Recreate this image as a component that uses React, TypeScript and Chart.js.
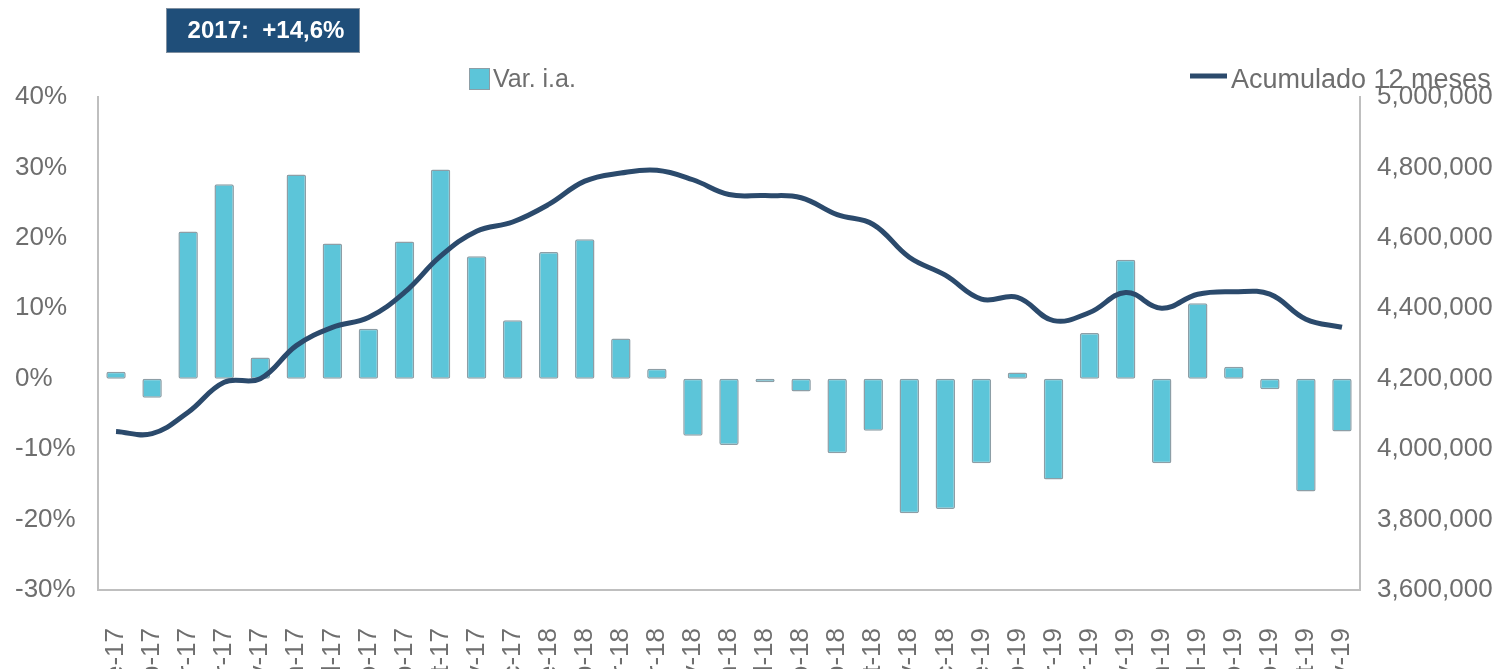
import React, { useEffect, useRef } from "react";
import { Chart, registerables } from "chart.js";

Chart.register(...registerables);

const categories = [
  "ene-17", "feb-17", "mar-17", "abr-17", "may-17", "jun-17", "jul-17", "ago-17", "sep-17", "oct-17", "nov-17", "dic-17",
  "ene-18", "feb-18", "mar-18", "abr-18", "may-18", "jun-18", "jul-18", "ago-18", "sep-18", "oct-18", "nov-18", "dic-18",
  "ene-19", "feb-19", "mar-19", "abr-19", "may-19", "jun-19", "jul-19", "ago-19", "sep-19", "oct-19", "nov-19",
];

// Var. i.a. (%)
const varIA = [
  1.0, -2.7, 20.9, 27.6, 3.0, 29.0, 19.2, 7.1, 19.5, 29.7, 17.4, 8.3,
  18.0, 19.8, 5.7, 1.4, -8.1, -9.4, -0.5, -1.8, -10.6, -7.4, -19.1, -18.5,
  -12.0, 0.9, -14.3, 6.5, 16.9, -12.0, 10.7, 1.7, -1.5, -16.0, -7.5,
];

// Acumulado 12 meses
const acumulado = [
  4050000, 4044000, 4105000, 4190000, 4200000, 4294000, 4346000, 4374000, 4445000, 4548000, 4619000, 4645000,
  4695000, 4761000, 4784000, 4792000, 4765000, 4723000, 4720000, 4714000, 4666000, 4638000, 4545000, 4494000,
  4426000, 4431000, 4365000, 4388000, 4445000, 4400000, 4440000, 4447000, 4440000, 4369000, 4346000,
];

const leftTicks = { min: -30, max: 40, step: 10 };
const rightTicks = { min: 3600000, max: 5000000, step: 200000 };

const titleText = "2017:  +14,6%";
const legendBar = "Var. i.a.";
const legendLine = "Acumulado 12 meses";

const BAR_COLOR = "#5cc5d9";
const BAR_BORDER = "#8d9ea6";
const LINE_COLOR = "#2b4a6c";
const TEXT_COLOR = "#6e6e6e";
const AXIS_COLOR = "#bfbfbf";
const FONT = "'Liberation Sans', Arial, sans-serif";

const overlayPlugin = {
  id: "overlay",
  afterDraw(chart: any) {
    const ctx = chart.ctx;
    ctx.save();
    // title box
    ctx.fillStyle = "#1f4e79";
    ctx.fillRect(166, 8, 194, 45);
    ctx.strokeStyle = "#7f8fa0";
    ctx.lineWidth = 1;
    ctx.strokeRect(166.5, 8.5, 193, 44);
    ctx.fillStyle = "#ffffff";
    ctx.font = `bold 24px ${FONT}`;
    ctx.textAlign = "center";
    ctx.textBaseline = "middle";
    ctx.fillText(titleText, 266, 31);

    // legend bar
    ctx.fillStyle = BAR_COLOR;
    ctx.fillRect(469, 68, 21, 22);
    ctx.strokeStyle = BAR_BORDER;
    ctx.strokeRect(469.5, 68.5, 20, 21);
    ctx.fillStyle = TEXT_COLOR;
    ctx.font = `25px ${FONT}`;
    ctx.textAlign = "left";
    ctx.textBaseline = "middle";
    ctx.fillText(legendBar, 493, 80);

    // legend line
    ctx.strokeStyle = LINE_COLOR;
    ctx.lineWidth = 5;
    ctx.beginPath();
    ctx.moveTo(1190, 76);
    ctx.lineTo(1227, 76);
    ctx.stroke();
    ctx.fillStyle = TEXT_COLOR;
    ctx.font = `27px ${FONT}`;
    ctx.fillText(legendLine, 1231, 81);
    ctx.restore();
  },
};

export default function App() {
  const ref = useRef<HTMLCanvasElement | null>(null);

  useEffect(() => {
    document.body.style.margin = "0";
    const canvas = ref.current;
    if (!canvas) return;
    const chart = new Chart(canvas, {
      type: "bar",
      data: {
        labels: categories,
        datasets: [
          {
            type: "line",
            label: legendLine,
            data: acumulado,
            yAxisID: "y1",
            borderColor: LINE_COLOR,
            backgroundColor: LINE_COLOR,
            borderWidth: 5,
            pointRadius: 0,
            tension: 0.4,
            order: 0,
          } as any,
          {
            type: "bar",
            label: legendBar,
            data: varIA,
            yAxisID: "y",
            backgroundColor: BAR_COLOR,
            borderColor: BAR_BORDER,
            borderWidth: 1.5,
            borderRadius: 2,
            borderSkipped: false,
            categoryPercentage: 1,
            barPercentage: 0.54,
            order: 1,
          } as any,
        ],
      },
      options: {
        animation: false,
        responsive: true,
        maintainAspectRatio: false,
        layout: { padding: { top: 97, left: 15, right: 0, bottom: 0 } },
        plugins: {
          legend: { display: false },
          tooltip: { enabled: false },
          title: { display: false },
        },
        scales: {
          x: {
            grid: { display: false, drawTicks: false },
            border: { display: true, color: AXIS_COLOR, width: 2 },
            ticks: {
              autoSkip: false,
              maxRotation: 90,
              minRotation: 90,
              padding: 38,
              color: TEXT_COLOR,
              font: { family: FONT, size: 26 },
            },
            afterFit: (s: any) => {
              s.height = 130;
            },
          },
          y: {
            position: "left",
            min: leftTicks.min,
            max: leftTicks.max,
            grid: { display: false, drawTicks: false },
            border: { display: true, color: AXIS_COLOR, width: 2 },
            ticks: {
              stepSize: leftTicks.step,
              crossAlign: "far",
              color: TEXT_COLOR,
              font: { family: FONT, size: 26 },
              callback: (v: any) => `${v}%`,
            },
            afterFit: (s: any) => {
              s.width = 83;
            },
          },
          y1: {
            position: "right",
            min: rightTicks.min,
            max: rightTicks.max,
            grid: { display: false, drawTicks: false },
            border: { display: true, color: AXIS_COLOR, width: 2 },
            ticks: {
              stepSize: rightTicks.step,
              padding: 17,
              color: TEXT_COLOR,
              font: { family: FONT, size: 26 },
              callback: (v: any) => Number(v).toLocaleString("en-US"),
            },
            afterFit: (s: any) => {
              s.width = 145;
            },
          },
        },
      } as any,
      plugins: [overlayPlugin],
    });
    return () => chart.destroy();
  }, []);

  return (
    <div style={{ width: 1505, height: 669, overflow: "hidden", background: "#fff" }}>
      <div style={{ position: "relative", width: 1505, height: 720 }}>
        <canvas ref={ref} />
      </div>
    </div>
  );
}
